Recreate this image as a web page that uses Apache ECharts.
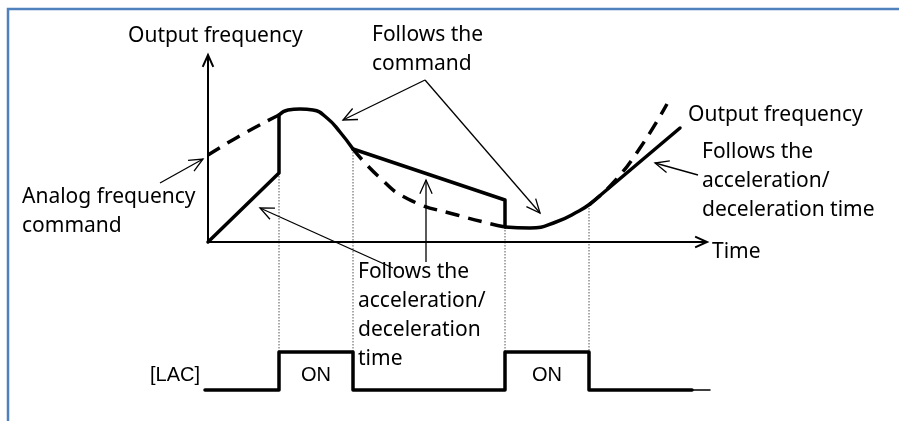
<!DOCTYPE html>
<html>
<head>
<meta charset="utf-8">
<script src="https://cdn.jsdelivr.net/npm/echarts@6/dist/echarts.min.js"></script>
<style>
    html, body { margin: 0; padding: 0; background: #fff; }
    #chart { width: 899px; height: 421px; }
</style>
</head>
<body>
<div id="chart"></div>
<script>
;(function () {

    'use strict';

    // t = time to the right of the frequency axis, f = frequency above the time axis
    var outputRise = [[0, 0], [71, 69], [71, 127]];
    var outputPeak = [[71, 127], [80, 132], [92, 133], [105, 132], [119, 124], [132, 110], [145, 93]];
    var outputDecel = [[145, 93], [297, 42], [297, 15]];
    var outputValley = [[297, 15], [322, 14], [348, 20], [371, 31], [382, 38]];
    var outputAccel = [[382, 38], [472, 114]];

    var commandBefore = [[0, 87], [35, 108], [71, 127]];
    var commandMiddle = [[145, 93], [170, 66], [200, 43], [249, 27], [297, 15]];
    var commandAfter = [[382, 38], [405, 59], [432, 94], [459, 138]];

    // LAC signal, and the switching instants with the output level there
    var lacSignal = [[-3, -148], [71, -148], [71, -110], [145, -110], [145, -148], [297, -148],
        [297, -110], [381, -110], [381, -148], [484, -148]];
    var lacTail = [[484, -148], [502, -148]];
    var switchGuides = [[71, 69], [145, 93], [297, 15], [381, 37]];
    var guideBottom = -110;

    var axisArrows = [[0, 0, 0, 187], [0, 0, 499, 0]];
    var noteArrows = [
        [-48, 59, -5, 83],
        [217, 162, 135, 122],
        [217, 162, 332, 29],
        [185, -26, 52, 34],
        [218, -20, 218, 62],
        [490, 67, 447, 79]
    ];

    var noteTexts = ['Output frequency', 'Follows the\ncommand', 'Analog frequency\ncommand',
        'Follows the\nacceleration/\ndeceleration\ntime', 'Output frequency',
        'Follows the\nacceleration/\ndeceleration time', 'Time'];
    var notePlaces = [[-80, 206], [164, 207], [-186, 45], [150, -30], [480, 127], [494, 90], [504, -10]];

    var signalTexts = ['[LAC]', 'ON', 'ON'];
    var signalPlaces = [[-58, -133], [108, -133], [339, -133]];
    var signalAligns = ['left', 'center', 'center'];

    var chart = echarts.init(document.getElementById('chart'), null, { renderer: 'canvas' });

    var arrowRenderer = function (width, head) {
        return function (params, api) {
            var from = api.coord([api.value(0), api.value(1)]);
            var to = api.coord([api.value(2), api.value(3)]);
            var ang = Math.atan2(to[1] - from[1], to[0] - from[0]);
            var spread = 0.42;
            var a = [to[0] - head * Math.cos(ang - spread), to[1] - head * Math.sin(ang - spread)];
            var b = [to[0] - head * Math.cos(ang + spread), to[1] - head * Math.sin(ang + spread)];
            return {
                type: 'group',
                children: [
                    { type: 'line', shape: { x1: from[0], y1: from[1], x2: to[0], y2: to[1] },
                        style: { stroke: '#000', lineWidth: width } },
                    { type: 'polyline', shape: { points: [a, to, b] },
                        style: { stroke: '#000', lineWidth: width, fill: null } }
                ]
            };
        };
    };

    var textRenderer = function (texts, font, aligns) {
        return function (params, api) {
            var p = api.coord([api.value(0), api.value(1)]);
            return {
                type: 'text',
                x: p[0],
                y: p[1] - 14.5,
                style: {
                    text: texts[params.dataIndex],
                    font: font,
                    fill: '#000',
                    align: aligns ? aligns[params.dataIndex] : 'left',
                    verticalAlign: 'top',
                    lineHeight: 29
                }
            };
        };
    };

    var curve = function (data, smooth, dashed, width) {
        return {
            type: 'line',
            data: data,
            smooth: smooth,
            symbol: 'none',
            silent: true,
            lineStyle: {
                color: '#000',
                width: width || 3.5,
                type: dashed ? [14, 9] : 'solid',
                cap: dashed ? 'butt' : 'round',
                join: 'round'
            },
            z: dashed ? 3 : 4
        };
    };

    var option = {
        animation: false,
        backgroundColor: '#fff',
        grid: { left: 0, right: 0, top: 0, bottom: 0 },
        xAxis: { type: 'value', min: -208, max: 691, show: false },
        yAxis: { type: 'value', min: -179, max: 242, show: false },
        graphic: [{
            type: 'polyline',
            shape: { points: [[8, 421], [8, 9], [899, 9]] },
            style: { stroke: '#4f81bd', lineWidth: 2.5, fill: null }
        }],
        series: [
            {
                type: 'custom',
                silent: true,
                data: switchGuides,
                renderItem: function (params, api) {
                    var top = api.coord([api.value(0), api.value(1)]);
                    var bottom = api.coord([api.value(0), guideBottom]);
                    return {
                        type: 'line',
                        shape: { x1: top[0], y1: top[1], x2: bottom[0], y2: bottom[1] },
                        style: { stroke: '#555', lineWidth: 1, lineDash: [1.5, 1.5] }
                    };
                },
                z: 1
            },
            curve(commandBefore, 0.5, true),
            curve(commandMiddle, 0.5, true),
            curve(commandAfter, 0.5, true),
            curve(outputRise, false, false),
            curve(outputPeak, 0.5, false),
            curve(outputDecel, false, false),
            curve(outputValley, 0.5, false),
            curve(outputAccel, false, false),
            curve(lacSignal, false, false, 3.5),
            curve(lacTail, false, false, 1.5),
            {
                type: 'custom',
                silent: true,
                data: axisArrows,
                encode: { x: [0, 2], y: [1, 3] },
                renderItem: arrowRenderer(2, 13),
                z: 5
            },
            {
                type: 'custom',
                silent: true,
                data: noteArrows,
                encode: { x: [0, 2], y: [1, 3] },
                renderItem: arrowRenderer(1.3, 15),
                z: 5
            },
            {
                type: 'custom',
                silent: true,
                data: notePlaces,
                renderItem: textRenderer(noteTexts, '21px "Noto Sans"'),
                z: 6
            },
            {
                type: 'custom',
                silent: true,
                data: signalPlaces,
                renderItem: textRenderer(signalTexts, '20px "Liberation Sans"', signalAligns),
                z: 6
            }
        ]
    };

    chart.setOption(option);

}());
</script>
</body>
</html>
